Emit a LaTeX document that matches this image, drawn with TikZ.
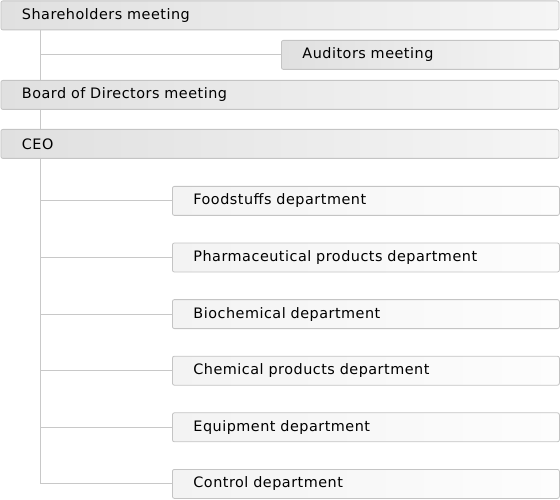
\documentclass[tikz,border=0pt]{standalone}
\usepackage{fontspec}
\setmainfont[LetterSpace=3.5]{DejaVu Sans}
\definecolor{boxline}{HTML}{C4C4C4}
\definecolor{linkgray}{HTML}{C8C8C8}
\definecolor{topleft}{HTML}{E0E0E0}
\definecolor{topright}{HTML}{F5F5F5}
\definecolor{deptleft}{HTML}{F3F3F3}
\definecolor{deptright}{HTML}{FDFDFD}
\tikzset{
    orgbox/.style={draw=boxline, line width=0.8pt, rounded corners=2pt, rectangle, anchor=north west,
        minimum height=29pt, inner xsep=21pt, inner ysep=0pt, align=left,
        font=\fontsize{14.4}{16}\selectfont},
    topbox/.style={orgbox, left color=topleft, right color=topright, text width=#1},
    deptbox/.style={orgbox, left color=deptleft, right color=deptright, text width=#1},
    link/.style={draw=linkgray, line width=0.9pt}
}
\begin{document}
\begin{tikzpicture}[x=1pt, y=-1pt]
        \useasboundingbox (0,0) rectangle (560,500);
        \pgfmathsetmacro{\deptstep}{56.6}
        \coordinate (trunk) at (40,0);
        % top levels
        \node[topbox=516pt] (share) at (0.5,0.5) {Shareholders meeting};
        \node[topbox=236pt] (audit) at (281,40) {Auditors meeting};
        \node[topbox=516pt] (board) at (0.5,80) {Board of Directors meeting};
        \node[topbox=516pt] (ceo) at (0.5,129) {CEO};
        \draw[link] (share.south -| trunk) -- (board.north -| trunk);
        \draw[link] (audit.west -| trunk) -- (audit.west);
        \draw[link] (board.south -| trunk) -- (ceo.north -| trunk);
        % departments
        \foreach \name/\label [count=\i] in {food/Foodstuffs department, pharma/Pharmaceutical products department,
                bio/Biochemical department, chem/Chemical products department,
                equip/Equipment department, ctrl/Control department}{
                \node[deptbox=345pt] (\name) at (172, {186+(\i-1)*\deptstep}) {\label};
                \draw[link] (\name.west -| trunk) -- (\name.west);
            }
        \draw[link] (ceo.south -| trunk) -- (ctrl.west -| trunk);
    \end{tikzpicture}
\end{document}
